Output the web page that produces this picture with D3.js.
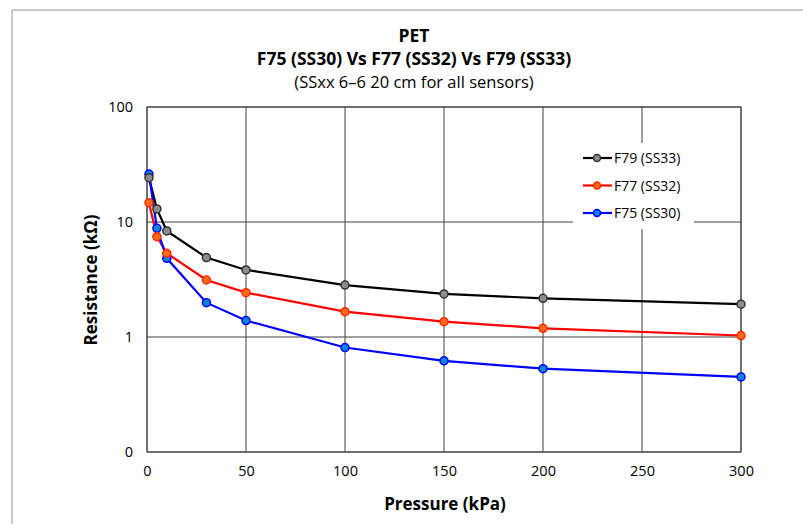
<!DOCTYPE html>
<html>
<head>
<meta charset="utf-8">
<script src="https://cdn.jsdelivr.net/npm/d3@7"></script>
<style>
  body { margin: 0; background: #fff; }
  text { font-family: "Open Sans", "Liberation Sans", sans-serif; }
</style>
</head>
<body>
<svg width="803" height="524"></svg>
<script>
var pressure = [1, 5, 10, 30, 50, 100, 150, 200, 300];
var f79 = [24.3, 13.0, 8.36, 4.91, 3.83, 2.83, 2.37, 2.17, 1.93];
var f77 = [14.7, 7.45, 5.35, 3.13, 2.43, 1.66, 1.36, 1.19, 1.03];
var f75 = [26.1, 8.81, 4.83, 1.99, 1.39, 0.81, 0.62, 0.53, 0.45];
var xTicks = [0, 50, 100, 150, 200, 250, 300];
var yTicks = [0.1, 1, 10, 100];
var yTickLabels = ["0", "1", "10", "100"];
var titles = ["PET", "F75 (SS30) Vs F77 (SS32) Vs F79 (SS33)", "(SSxx 6\u20136 20 cm for all sensors)"];

var series = [
  {name: "F79 (SS33)", values: f79, line: "#000000", fill: "#8c8c8c", stroke: "#333333"},
  {name: "F77 (SS32)", values: f77, line: "#ff0000", fill: "#ff6a1a", stroke: "#ff2a00"},
  {name: "F75 (SS30)", values: f75, line: "#0000ff", fill: "#0a84d8", stroke: "#0000ff"}
];

var svg = d3.select("svg");
var plotLeft = 147, plotRight = 741, plotTop = 107, plotBottom = 452;
var gridColor = "#404040";

// outer frame
svg.append("line").attr("x1", 12).attr("y1", 10).attr("x2", 803).attr("y2", 10)
   .attr("stroke", "#c8c8c8").attr("stroke-width", 2);
svg.append("line").attr("x1", 12).attr("y1", 10).attr("x2", 12).attr("y2", 524)
   .attr("stroke", "#9a9a9a").attr("stroke-width", 1);

var x = d3.scaleLinear().domain([0, 300]).range([plotLeft, plotRight]);
var y = d3.scaleLog().domain([0.1, 100]).range([plotBottom, plotTop]);

// grid
svg.append("g").selectAll("line").data(xTicks).enter().append("line")
   .attr("x1", function(d) { return x(d); }).attr("x2", function(d) { return x(d); })
   .attr("y1", plotTop).attr("y2", plotBottom)
   .attr("stroke", gridColor).attr("stroke-width", 1);
svg.append("g").selectAll("line").data(yTicks).enter().append("line")
   .attr("x1", plotLeft).attr("x2", plotRight)
   .attr("y1", function(d) { return y(d); }).attr("y2", function(d) { return y(d); })
   .attr("stroke", gridColor).attr("stroke-width", 1);
svg.append("rect").attr("x", plotLeft).attr("y", plotTop)
   .attr("width", plotRight - plotLeft).attr("height", plotBottom - plotTop)
   .attr("fill", "none").attr("stroke", gridColor).attr("stroke-width", 1);

// axes labels
var xAxis = d3.axisBottom(x).tickValues(xTicks).tickSize(0).tickPadding(14);
svg.append("g").attr("transform", "translate(0," + plotBottom + ")").call(xAxis)
   .call(function(g) { g.select(".domain").remove(); })
   .selectAll("text").style("font-size", "14.5px").attr("fill", "#000")
   .style("font-family", "'Open Sans', sans-serif");
var yAxis = d3.axisLeft(y).tickValues(yTicks).tickSize(0).tickPadding(14)
   .tickFormat(function(d, i) { return yTickLabels[i]; });
svg.append("g").attr("transform", "translate(" + plotLeft + ",0)").call(yAxis)
   .call(function(g) { g.select(".domain").remove(); })
   .selectAll("text").style("font-size", "14.5px").attr("fill", "#000")
   .style("font-family", "'Open Sans', sans-serif");

// series
var line = d3.line()
   .x(function(d, i) { return x(pressure[i]); })
   .y(function(d) { return y(d); });

series.forEach(function(s) {
  svg.append("path").datum(s.values).attr("d", line)
     .attr("fill", "none").attr("stroke", s.line).attr("stroke-width", 2.2);
});
series.slice().reverse().forEach(function(s) {
  svg.append("g").selectAll("circle").data(s.values).enter().append("circle")
     .attr("cx", function(d, i) { return x(pressure[i]); })
     .attr("cy", function(d) { return y(d); })
     .attr("r", 4)
     .attr("fill", s.fill).attr("stroke", s.stroke).attr("stroke-width", 1.5);
});

// legend
svg.append("rect").attr("x", 573).attr("y", 143).attr("width", 121).attr("height", 86)
   .attr("fill", "#fff");
series.forEach(function(s, i) {
  var ly = 158 + i * 27.5;
  svg.append("line").attr("x1", 583).attr("x2", 612).attr("y1", ly).attr("y2", ly)
     .attr("stroke", s.line).attr("stroke-width", 2.2);
  svg.append("circle").attr("cx", 597).attr("cy", ly).attr("r", 3.5)
     .attr("fill", s.fill).attr("stroke", s.stroke).attr("stroke-width", 1.5);
  svg.append("text").attr("x", 614).attr("y", ly + 5).text(s.name)
     .style("font-size", "14px");
});

// titles
svg.selectAll(".title").data(titles).enter().append("text")
   .attr("x", 414).attr("y", function(d, i) { return 42 + i * 23; })
   .attr("text-anchor", "middle")
   .style("font-size", function(d, i) { return i < 2 ? "17.5px" : "16.5px"; })
   .style("font-weight", function(d, i) { return i < 2 ? "bold" : "normal"; })
   .text(function(d) { return d; });

svg.append("text").attr("x", 445).attr("y", 510).attr("text-anchor", "middle")
   .style("font-size", "17px").style("font-weight", "bold").text("Pressure (kPa)");
svg.append("text").attr("transform", "translate(97,280) rotate(-90)")
   .attr("text-anchor", "middle")
   .style("font-size", "17px").style("font-weight", "bold").text("Resistance (k\u03a9)");
</script>
</body>
</html>
